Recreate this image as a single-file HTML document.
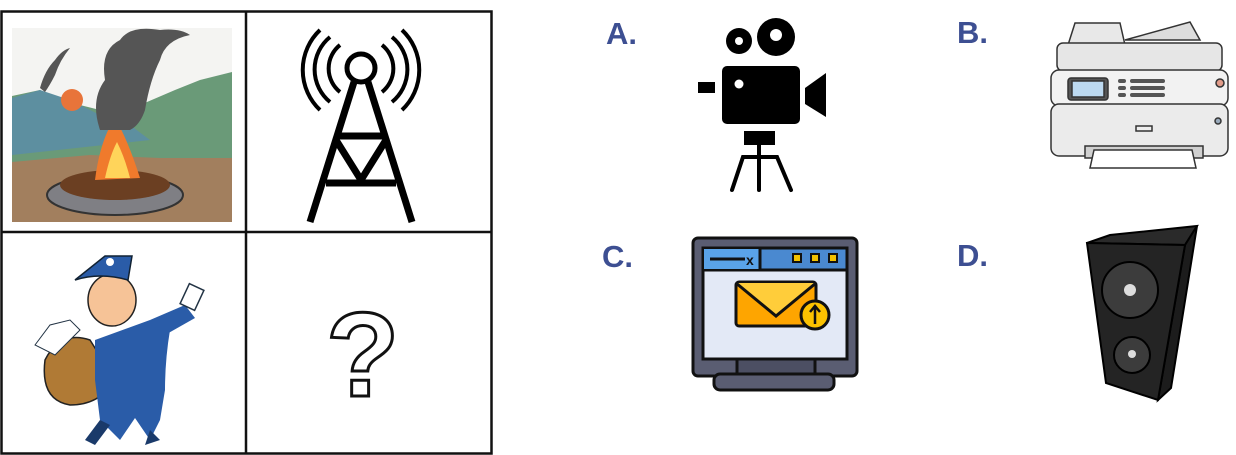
<!DOCTYPE html>
<html><head><meta charset="utf-8"><style>
html,body{margin:0;padding:0;background:#fff;width:1236px;height:455px;overflow:hidden}
svg{display:block}
text{font-family:"Liberation Sans",sans-serif;font-weight:bold;fill:#3d4f92;font-size:31px}
</style></head><body>
<svg width="1236" height="455" viewBox="0 0 1236 455">
<!-- grid -->
<rect x="1.5" y="11.5" width="490" height="442" fill="none" stroke="#111" stroke-width="2.5"/>
<line x1="246" y1="11" x2="246" y2="454" stroke="#111" stroke-width="2.5"/>
<line x1="1" y1="232" x2="492" y2="232" stroke="#111" stroke-width="2.5"/>
<!-- fire scene -->
<rect x="12" y="28" width="220" height="194" fill="#f4f4f2"/>
<polygon points="12,96 40,90 60,100 100,110 140,105 175,90 200,80 232,72 232,165 12,165" fill="#6a9a78"/>
<polygon points="12,98 40,90 70,100 100,115 130,125 150,140 12,155" fill="#5d8fa0"/>
<circle cx="72" cy="100" r="11" fill="#e8743a"/>
<polygon points="12,162 90,155 160,158 232,158 232,222 12,222" fill="#a27f5e"/>
<ellipse cx="115" cy="195" rx="68" ry="20" fill="#7f7f84" stroke="#333" stroke-width="2"/>
<ellipse cx="115" cy="185" rx="55" ry="15" fill="#6b3f22"/>
<path d="M95,180 Q100,140 115,118 Q128,140 140,178 Z" fill="#f07a2c"/>
<path d="M105,178 Q110,155 117,142 Q125,158 130,178 Z" fill="#ffd45a"/>
<path d="M100,130 Q90,100 105,80 Q100,50 120,40 Q130,25 160,30 Q180,28 190,35 Q165,40 160,60 Q150,80 145,110 Q140,125 130,130 Z" fill="#555"/>
<path d="M40,88 Q45,70 55,60 Q62,50 70,48 Q60,60 55,75 Q50,85 45,92Z" fill="#555"/>
<!-- tower -->
<g stroke="#000" fill="none" stroke-width="4">
<circle cx="361" cy="68" r="14" stroke-width="5"/>
<path d="M340,45 A30,30 0 0 0 340,92"/><path d="M382,45 A30,30 0 0 1 382,92"/>
<path d="M330,37 A42,42 0 0 0 330,102"/><path d="M392,37 A42,42 0 0 1 392,102"/>
<path d="M320,30 A55,55 0 0 0 320,110"/><path d="M402,30 A55,55 0 0 1 402,110"/>
</g>
<g stroke="#000" stroke-width="7" fill="none">
<line x1="354" y1="82" x2="310" y2="222"/><line x1="368" y1="82" x2="412" y2="222"/>
<line x1="338" y1="136" x2="384" y2="136"/><line x1="326" y1="183" x2="396" y2="183"/>
<polyline points="336,140 361,180 386,140"/>
</g>
<!-- mailman -->
<path d="M90,340 Q60,330 45,360 Q40,400 70,405 Q100,405 115,380 Z" fill="#b07a35" stroke="#222" stroke-width="1.5"/>
<path d="M95,340 L150,320 L170,330 Q165,360 165,390 L160,420 L150,440 L135,418 L120,440 L100,420 L95,380 Z" fill="#2a5ca8"/>
<path d="M150,320 L185,305 L195,318 L165,335Z" fill="#2a5ca8"/>
<path d="M100,420 L85,440 L95,445 L110,425Z M150,430 L160,440 L145,445Z" fill="#1a3a6a"/>
<rect x="184" y="286" width="16" height="22" fill="#fff" stroke="#234" stroke-width="1.5" transform="rotate(25 192 297)"/>
<ellipse cx="112" cy="300" rx="24" ry="26" fill="#f6c397" stroke="#222" stroke-width="1.5"/>
<path d="M75,280 L105,256 L132,256 L128,280 Q100,272 75,280Z" fill="#2a5ca8" stroke="#123" stroke-width="1.5"/>
<circle cx="110" cy="262" r="4" fill="#fff"/>
<path d="M35,345 L50,325 L70,320 L80,330 L55,355Z" fill="#fff" stroke="#234"/>
<!-- question mark -->
<text x="326" y="396" style="font-family:'Liberation Sans',sans-serif;font-weight:bold;font-size:120px;fill:#fff;stroke:#111;stroke-width:3">?</text>
<!-- labels -->
<text x="606" y="44">A.</text>
<text x="957" y="43">B.</text>
<text x="602" y="267">C.</text>
<text x="957" y="266">D.</text>
<!-- camera -->
<circle cx="739" cy="41" r="13" fill="#000"/><circle cx="739" cy="41" r="4" fill="#fff"/>
<circle cx="776" cy="37" r="19" fill="#000"/><circle cx="776" cy="35" r="6" fill="#fff"/>
<rect x="722" y="66" width="78" height="58" rx="5" fill="#000"/>
<circle cx="739" cy="84" r="4.5" fill="#fff"/>
<rect x="698" y="82" width="17" height="11" fill="#000"/>
<polygon points="805,88 826,73 826,117 805,104" fill="#000"/>
<rect x="744" y="131" width="31" height="14" fill="#000"/>
<g stroke="#000" stroke-width="4" stroke-linecap="round" fill="none">
<line x1="759" y1="145" x2="759" y2="190"/>
<polyline points="732,190 743,157 777,157 791,190"/>
</g>
<!-- printer -->
<g stroke="#333" stroke-width="1.5">
<path d="M1068,45 L1075,23 L1120,23 L1125,45 Z" fill="#e8e8e8"/>
<path d="M1125,40 L1190,22 L1200,40 Z" fill="#ddd"/>
<rect x="1057" y="43" width="165" height="28" rx="6" fill="#e6e6e6"/>
<rect x="1051" y="70" width="177" height="36" rx="8" fill="#f2f2f2"/>
<rect x="1068" y="78" width="40" height="22" rx="3" fill="#555"/>
<rect x="1072" y="81" width="32" height="16" fill="#bcd9f0"/>
<rect x="1051" y="104" width="177" height="52" rx="8" fill="#ebebeb"/>
<rect x="1085" y="146" width="118" height="12" fill="#d0d0d0"/>
<polygon points="1094,150 1192,150 1196,168 1090,168" fill="#fff"/>
<circle cx="1220" cy="83" r="4" fill="#e29c8a"/>
<circle cx="1218" cy="121" r="3" fill="#9ab"/>
<rect x="1136" y="126" width="16" height="5" fill="#eee"/>
</g>
<g fill="#555"><rect x="1118" y="79" width="8" height="4" rx="2"/><rect x="1130" y="79" width="35" height="4" rx="2"/><rect x="1118" y="86" width="8" height="4" rx="2"/><rect x="1130" y="86" width="35" height="4" rx="2"/><rect x="1118" y="93" width="8" height="4" rx="2"/><rect x="1130" y="93" width="35" height="4" rx="2"/></g>
<!-- monitor -->
<rect x="693" y="238" width="164" height="138" rx="5" fill="#5a5d72" stroke="#111" stroke-width="3"/>
<rect x="737" y="356" width="78" height="20" fill="#4c4f63" stroke="#111" stroke-width="3"/>
<rect x="714" y="374" width="120" height="16" rx="6" fill="#5a5d72" stroke="#111" stroke-width="3"/>
<rect x="703" y="248" width="144" height="111" fill="#e3e9f6" stroke="#111" stroke-width="3"/>
<rect x="703" y="248" width="144" height="22" fill="#4a89d0" stroke="#111" stroke-width="3"/>
<rect x="704" y="249" width="56" height="20" fill="#5aa3e8"/>
<line x1="760" y1="249" x2="760" y2="269" stroke="#111" stroke-width="3"/>
<line x1="710" y1="259" x2="745" y2="259" stroke="#111" stroke-width="3"/>
<text x="746" y="265" style="font-size:14px;fill:#111">x</text>
<g fill="#f2c200" stroke="#111" stroke-width="2"><rect x="793" y="254" width="8" height="8"/><rect x="811" y="254" width="8" height="8"/><rect x="829" y="254" width="8" height="8"/></g>
<rect x="736" y="282" width="80" height="44" rx="3" fill="#fea500" stroke="#111" stroke-width="3"/>
<polyline points="736,283 776,316 816,283" fill="#ffcd3a" stroke="#111" stroke-width="3"/>
<circle cx="815" cy="315" r="14" fill="#fcc200" stroke="#111" stroke-width="3"/>
<path d="M815,324 L815,307 M810,312 L815,306 L820,312" stroke="#111" stroke-width="2.5" fill="none"/>
<!-- speaker -->
<polygon points="1087,243 1110,235 1197,226 1185,245" fill="#2a2a2a" stroke="#000" stroke-width="2"/>
<polygon points="1185,245 1197,226 1171,388 1158,400" fill="#1c1c1c" stroke="#000" stroke-width="2"/>
<polygon points="1087,243 1185,245 1158,400 1106,383" fill="#242424" stroke="#000" stroke-width="2"/>
<circle cx="1130" cy="290" r="28" fill="#3c3c3c" stroke="#000" stroke-width="2"/>
<circle cx="1130" cy="290" r="6" fill="#ddd"/>
<circle cx="1132" cy="355" r="18" fill="#3c3c3c" stroke="#000" stroke-width="2"/>
<circle cx="1132" cy="354" r="4" fill="#ddd"/>
</svg>
</body></html>
